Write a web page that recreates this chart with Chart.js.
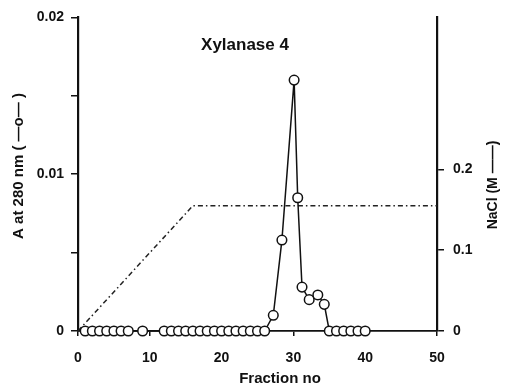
<!DOCTYPE html>
<html>
<head>
<meta charset="utf-8">
<script src="https://cdn.jsdelivr.net/npm/chart.js@4.4.1/dist/chart.umd.min.js"></script>
<style>
  html, body { margin: 0; padding: 0; background: #fff; }
  #wrap { width: 507px; height: 387px; position: relative; }
</style>
</head>
<body>
<div id="wrap"><canvas id="c" width="507" height="387"></canvas></div>
<script>
// ---- data ----
const absFractions = [1,2,3,4,5,6,7,9,12,13,14,15,16,17,18,19,20,21,22,23,24,25,26,
                      27.2,28.4,30.1,30.6,31.2,32.2,33.4,34.3,35,36,37,38,39,40];
const absValues    = [0,0,0,0,0,0,0,0,0,0,0,0,0,0,0,0,0,0,0,0,0,0,0,
                      0.001,0.0058,0.016,0.0085,0.0028,0.002,0.0023,0.0017,0,0,0,0,0,0];
const naclFractions = [0, 16, 50];
const naclValues    = [0, 0.155, 0.155];
const xTicks  = [0, 10, 20, 30, 40, 50];
const yTicks  = [0, 0.005, 0.01, 0.015, 0.02];
const yLabels = {0: "0", 0.01: "0.01", 0.02: "0.02"};
const y2Ticks = [0, 0.1, 0.2];
const y2Labels = {0: "0", 0.1: "0.1", 0.2: "0.2"};
const titleText = "Xylanase 4";
const xTitle = "Fraction no";
const yTitle = "A at 280 nm ( \u2014o\u2014 )";
const y2Title = "NaCl (M \u2014\u2014)";

const FONT = "'Liberation Sans', Arial, sans-serif";

const textPlugin = {
  id: 'texts',
  afterDraw(chart) {
    const ctx = chart.ctx;
    ctx.save();
    ctx.fillStyle = '#111';
    ctx.textAlign = 'center';
    ctx.textBaseline = 'middle';
    ctx.font = "bold 17px " + FONT;
    ctx.fillText(titleText, 245, 45);
    ctx.font = "bold 15px " + FONT;
    ctx.fillText(xTitle, 280, 379);
    ctx.save();
    ctx.translate(19, 166);
    ctx.rotate(-Math.PI / 2);
    ctx.font = "bold 15px " + FONT;
    ctx.fillText(yTitle, 0, 0);
    ctx.restore();
    ctx.save();
    ctx.translate(493, 185);
    ctx.rotate(-Math.PI / 2);
    ctx.font = "bold 14px " + FONT;
    ctx.fillText(y2Title, 0, 0);
    ctx.restore();
    ctx.restore();
  }
};

new Chart(document.getElementById('c'), {
  type: 'line',
  data: {
    datasets: [
      {
        label: 'A280',
        data: absFractions.map((f, i) => ({x: f, y: absValues[i]})),
        yAxisID: 'y',
        borderColor: '#111',
        borderWidth: 1.5,
        pointRadius: 4.8,
        pointBorderWidth: 1.5,
        pointBackgroundColor: '#fff',
        pointBorderColor: '#111',
        tension: 0,
        clip: false
      },
      {
        label: 'NaCl',
        data: naclFractions.map((f, i) => ({x: f, y: naclValues[i]})),
        yAxisID: 'y2',
        borderColor: '#222',
        borderWidth: 1.5,
        borderDash: [5, 3, 1.5, 3],
        pointRadius: 0,
        tension: 0,
        clip: false
      }
    ]
  },
  options: {
    responsive: false,
    animation: false,
    layout: { padding: { top: 17, left: 0, right: 0, bottom: 0 } },
    plugins: { legend: { display: false }, tooltip: { enabled: false }, title: { display: false } },
    scales: {
      x: {
        type: 'linear', min: 0, max: 50,
        afterBuildTicks: s => { s.ticks = xTicks.map(v => ({value: v})); },
        afterFit: s => { s.height = 56; },
        ticks: { color: '#111', font: { family: FONT, size: 14, weight: 'bold' }, padding: 14, maxRotation: 0 },
        grid: { drawOnChartArea: false, drawTicks: true, tickLength: 5, color: '#111', lineWidth: 1.5 },
        border: { color: '#111', width: 1.8 }
      },
      y: {
        position: 'left', min: 0, max: 0.02,
        afterBuildTicks: s => { s.ticks = yTicks.map(v => ({value: v})); },
        afterFit: s => { s.width = 78; },
        ticks: {
          color: '#111', font: { family: FONT, size: 14, weight: 'bold' }, padding: 7,
          callback: v => (yLabels[v] !== undefined ? yLabels[v] : '')
        },
        grid: { drawOnChartArea: false, drawTicks: true, tickLength: 7, color: '#111', lineWidth: 1.5 },
        border: { color: '#111', width: 2.2 }
      },
      y2: {
        position: 'right', min: 0, max: 0.388,
        afterBuildTicks: s => { s.ticks = y2Ticks.map(v => ({value: v})); },
        afterFit: s => { s.width = 70; },
        ticks: {
          color: '#111', font: { family: FONT, size: 14, weight: 'bold' }, padding: 9,
          callback: v => (y2Labels[v] !== undefined ? y2Labels[v] : '')
        },
        grid: { drawOnChartArea: false, drawTicks: true, tickLength: 7, color: '#111', lineWidth: 1.5 },
        border: { color: '#111', width: 2.2 }
      }
    }
  },
  plugins: [textPlugin]
});
</script>
</body>
</html>
